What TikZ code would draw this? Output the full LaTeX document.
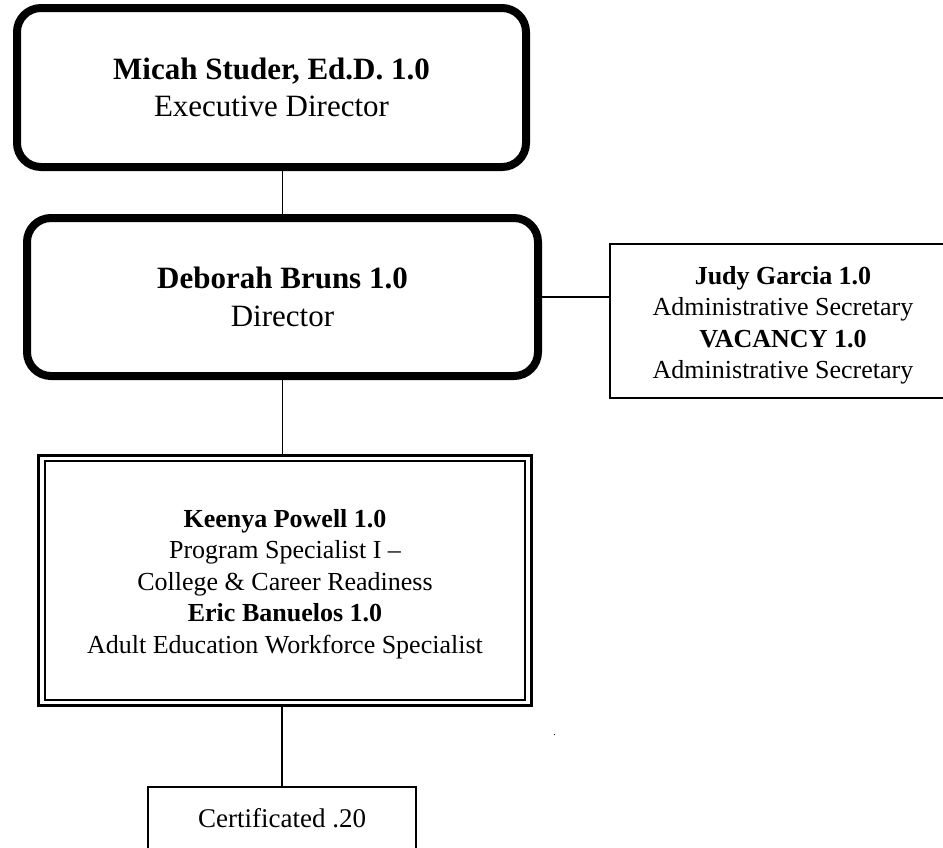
\documentclass[tikz,border=0pt]{standalone}
\usepackage{fontspec}
\setmainfont{Liberation Serif}

\tikzset{
  headbox/.style={draw, line width=8pt, rounded corners=24pt, align=center,
    inner sep=0pt, font=\fontsize{31}{37.5}\selectfont},
  staffbox/.style={draw, line width=2pt, align=center, inner sep=0pt,
    font=\fontsize{26}{31.5}\selectfont},
  link/.style={line width=1.3pt},
}

\begin{document}
\begin{tikzpicture}[x=1pt,y=-1pt]
\useasboundingbox (0,0) rectangle (943,847);

% directors
\node[headbox, minimum width=509pt, minimum height=159pt] (exec) at (271.5,87.5)
  {\textbf{Micah Studer, Ed.D. 1.0}\\Executive Director};
\node[headbox, minimum width=511pt, minimum height=158pt] (dir) at (282.5,297)
  {\textbf{Deborah Bruns 1.0}\\Director};

% office staff (strut pushes the text a bit lower)
\node[staffbox, minimum width=346pt, minimum height=154pt] (secr) at (783,321)
  {\rule{0pt}{27pt}\textbf{Judy Garcia 1.0}\\Administrative Secretary\\
   \textbf{VACANCY 1.0}\\Administrative Secretary};

% program staff, double frame
\node[staffbox, line width=3pt, minimum width=493pt, minimum height=250pt] (prog) at (285,580.5)
  {\rule{0pt}{25pt}\textbf{Keenya Powell 1.0}\\Program Specialist I --\\College \& Career Readiness\\
   \textbf{Eric Banuelos 1.0}\\Adult Education Workforce Specialist};
\draw[line width=2pt] ([xshift=8pt,yshift=7pt]prog.south west)
  rectangle ([xshift=-8pt,yshift=-7pt]prog.north east);

\node[staffbox, minimum width=268pt, minimum height=62pt,
  font=\fontsize{27}{32}\selectfont] (cert) at (282,818) {Certificated .20};

% lines
\draw[link] (dir.north |- exec.south) -- (dir.north);
\draw[link] (dir.east) -- (dir.east -| secr.west);
\draw[link] (dir.south) -- (dir.south |- prog.north);
\draw[link] (cert.north |- prog.south) -- (cert.north);

\fill (553.5,733.5) rectangle (554.7,735);
\end{tikzpicture}
\end{document}
